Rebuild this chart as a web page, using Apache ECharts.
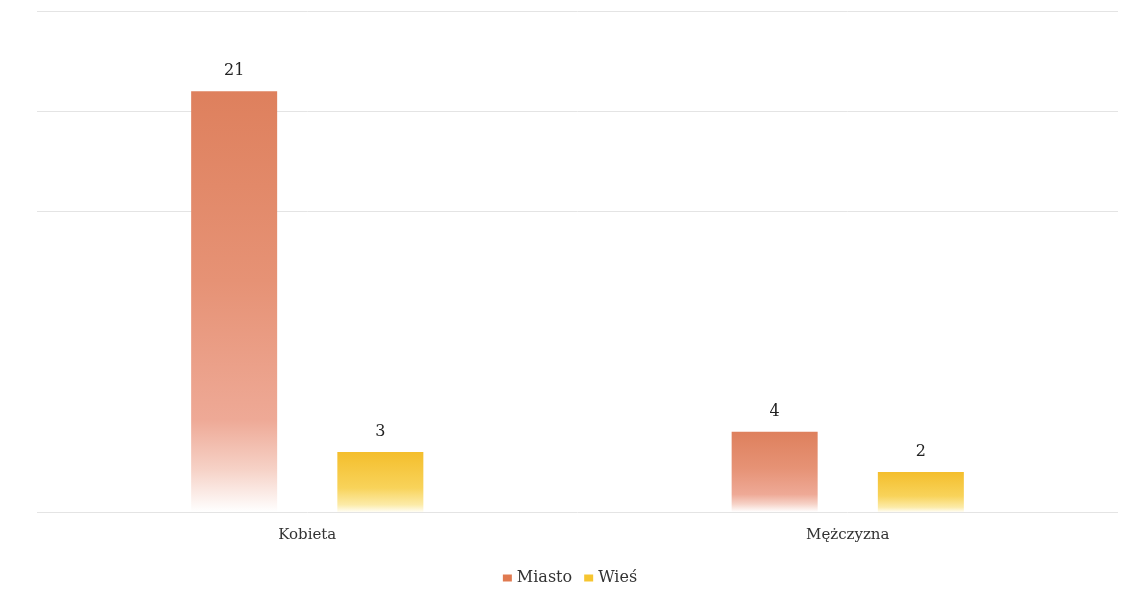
<!DOCTYPE html>
<html>
<head>
<meta charset="utf-8">
<script src="https://cdn.jsdelivr.net/npm/echarts@6/dist/echarts.min.js"></script>
<style>
html,body{margin:0;padding:0;background:#fff;}
#chart{width:1140px;height:610px;}
</style>
</head>
<body>
<div id="chart"></div>
<script>
var categories = ['Kobieta', 'Mężczyzna'];
var seriesNames = ['Miasto', 'Wieś'];
var miasto = [21, 4];
var wies = [3, 2];

var font = '"DejaVu Serif", "Liberation Serif", serif';
function grad(stops) {
  return new echarts.graphic.LinearGradient(0, 0, 0, 1, stops);
}
var miastoGrad = grad([
  {offset: 0, color: '#DE805D'},
  {offset: 0.45, color: '#E69275'},
  {offset: 0.78, color: '#EEA996'},
  {offset: 0.9, color: '#F6D2C7'},
  {offset: 1, color: '#FFFFFF'}
]);
var wiesGrad = grad([
  {offset: 0, color: '#F4BE2C'},
  {offset: 0.6, color: '#F8D35A'},
  {offset: 0.88, color: '#FCEBA8'},
  {offset: 1, color: '#FFFDF4'}
]);

var chart = echarts.init(document.getElementById('chart'), null, {renderer: 'canvas'});
chart.setOption({
  backgroundColor: '#ffffff',
  animation: false,
  grid: {left: 37, right: 22, top: 11, bottom: 98, containLabel: false},
  legend: {
    bottom: 19,
    left: 'center',
    itemWidth: 9,
    itemHeight: 7,
    itemGap: 12,
    icon: 'rect',
    textStyle: {fontFamily: font, fontSize: 16, color: '#333'},
    data: [
      {name: seriesNames[0], itemStyle: {color: '#E07A50'}},
      {name: seriesNames[1], itemStyle: {color: '#F6C530'}}
    ]
  },
  xAxis: {
    type: 'category',
    data: categories,
    axisLine: {show: false},
    axisTick: {show: false},
    axisLabel: {fontFamily: font, fontSize: 15, color: '#333', margin: 16}
  },
  yAxis: {
    type: 'value',
    min: 0,
    max: 25,
    interval: 5,
    axisLabel: {show: false},
    axisLine: {show: false},
    axisTick: {show: false},
    splitLine: {lineStyle: {color: ['#e4e4e4', '#ffffff', '#ffffff', '#e4e4e4', '#e4e4e4', '#e4e4e4'], width: 1}}
  },
  series: [
    {
      name: seriesNames[0],
      type: 'bar',
      data: miasto,
      barWidth: 86,
      barGap: '70%',
      itemStyle: {color: miastoGrad},
      label: {show: true, position: 'top', distance: 12, fontFamily: font, fontSize: 16, color: '#222'}
    },
    {
      name: seriesNames[1],
      type: 'bar',
      data: wies,
      barWidth: 86,
      barGap: '70%',
      itemStyle: {color: wiesGrad},
      label: {show: true, position: 'top', distance: 12, fontFamily: font, fontSize: 16, color: '#222'}
    }
  ]
});
</script>
</body>
</html>
